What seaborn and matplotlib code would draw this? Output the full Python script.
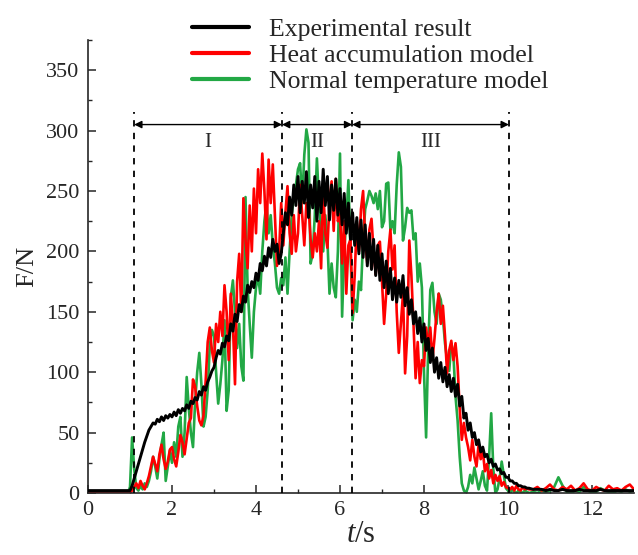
import numpy as np
import pandas as pd
import matplotlib
matplotlib.use("Agg")
import matplotlib.pyplot as plt
import seaborn as sns

# ---------------- data ----------------
t_pre = [0.0, 0.5, 0.95]
t_main = list(np.round(np.linspace(1.0, 10.5, 191), 2))
t_post = list(np.round(np.linspace(10.6, 13.0, 25), 2))
t_all = t_pre + t_main + t_post

exp_pre = [2, 2, 2]
exp_main = [
    2, 6, 12, 18, 24, 30, 36, 42, 47, 52,
    55, 58, 57, 61, 59, 63, 60, 64, 62, 65,
    63, 67, 64, 69, 66, 70, 68, 73, 70, 76,
    74, 79, 77, 84, 81, 88, 85, 92, 96, 101,
    104, 112, 118, 115, 124, 121, 130, 126, 140, 134,
    148, 142, 156, 150, 163, 158, 172, 166, 175, 170,
    182, 176, 190, 184, 196, 188, 203, 195, 210, 200,
    206, 190, 198, 215, 232, 222, 245, 230, 255, 238,
    262, 232, 258, 240, 266, 228, 255, 236, 262, 225,
    258, 232, 268, 238, 262, 226, 255, 234, 260, 230,
    252, 222, 248, 215, 240, 210, 232, 205, 228, 198,
    226, 195, 222, 188, 215, 185, 210, 180, 205, 176,
    198, 170, 192, 165, 186, 160, 178, 158, 176, 162,
    180, 155, 170, 148, 160, 140, 150, 132, 145, 125,
    140, 118, 128, 108, 120, 100, 112, 95, 108, 92,
    104, 88, 98, 84, 95, 80, 90, 72, 80, 62,
    66, 52, 58, 46, 50, 40, 44, 34, 38, 30,
    32, 25, 28, 22, 24, 19, 20, 16, 17, 13,
    13, 10, 10, 8, 8, 6, 6, 5, 5, 4,
    4]
exp_post = [3, 3, 3, 2, 3, 2, 2, 3, 2, 2, 2, 3, 2, 2, 2, 2, 3, 2, 2, 2, 2, 2, 2, 2, 2]

heat_pre = [0, 0, 0]
heat_main = [
    0, 2, 5, 8, 4, 10, 6, 3, 8, 14,
    22, 30, 24, 18, 32, 40, 28, 20, 26, 36,
    38, 28, 22, 34, 48, 42, 32, 45, 58, 62,
    94, 88, 72, 60, 56, 64, 92, 125, 137, 118,
    108, 140, 125, 150, 130, 172, 150, 110, 165, 140,
    90, 175, 198, 150, 244, 210, 186, 238, 200, 252,
    215, 268, 240, 281, 250, 210, 276, 240, 272, 230,
    188, 200, 240, 205, 232, 254, 215, 198, 230, 200,
    215, 255, 230, 205, 240, 238, 210, 195, 215, 200,
    225, 186, 253, 215, 203, 240, 258, 217, 260, 225,
    231, 190, 225, 165, 205, 210, 149, 180, 225, 200,
    235, 250, 210, 190, 218, 227, 200, 181, 205, 208,
    175, 140, 165, 200, 218, 185, 205, 150, 116, 140,
    165, 99, 130, 209, 180, 140, 95, 125, 91, 110,
    105, 137, 120, 137, 110, 128, 150, 165, 140, 155,
    130, 99, 118, 126, 110, 124, 105, 70, 44, 58,
    46, 38, 27, 44, 30, 22, 40, 28, 35, 18,
    24, 12, 19, 8, 15, 10, 14, 6, 9, 5,
    4, 3, 5, 2, 6, 3, 2, 5, 3, 4,
    3]
heat_post = [3, 5, 2, 4, 7, 3, 2, 5, 3, 6, 2, 4, 8, 3, 2, 5, 3, 2, 6, 3, 4, 2, 5, 7, 3]

norm_pre = [0, 0, 0]
norm_main = [
    5, 46, 20, 4, 2, 6, 3, 8, 5, 10,
    18, 30, 22, 12, 28, 40, 50, 10, 22, 35,
    25, 42, 30, 55, 63, 30, 50, 96, 70, 50,
    38, 75, 100, 116, 90, 55, 63, 85, 122, 135,
    130, 100, 74, 90, 110, 143, 68, 85, 162, 176,
    150, 120, 140, 105, 93, 245, 170, 140, 112, 150,
    170, 180, 165, 200, 225, 240, 215, 230, 205, 190,
    170, 165, 178, 172, 195, 165, 200, 230, 245, 255,
    268, 273, 240, 280, 301, 290, 190, 198, 230, 277,
    240, 215, 200, 230, 210, 165, 190, 170, 162, 200,
    281, 146, 200, 225, 259, 200, 143, 160, 150, 175,
    168, 210, 235, 242, 250, 246, 240, 248, 235, 250,
    220, 225, 256, 257, 218, 225, 215, 255, 282, 270,
    209, 220, 236, 232, 234, 210, 215, 175, 190, 170,
    100, 46, 120, 168, 174, 150, 140, 165, 160, 145,
    124, 110, 101, 124, 115, 80, 60, 30, 8, 2,
    0, 5, 15, 8, 21, 12, 3, 10, 18, 6,
    2, 30, 66, 20, 0, 3, 12, 26, 15, 4,
    2, 0, 3, 1, 0, 2, 1, 0, 2, 1,
    0]
norm_post = [1, 0, 2, 1, 2, 5, 13, 6, 1, 0, 2, 1, 5, 2, 0, 1, 4, 2, 1, 0, 2, 1, 3, 1, 2]

series_names = ["Experimental result", "Heat accumulation model", "Normal temperature model"]
series_colors = ["#000000", "#ff0000", "#22a845"]

region_bounds = [1.1, 4.62, 6.29, 10.02]
region_labels = ["I", "II", "III"]

x_ticks = [0, 2, 4, 6, 8, 10, 12]
y_ticks = [0, 50, 100, 150, 200, 250, 300, 350]

# ---------------- build table ----------------
exp_all = exp_pre + exp_main + exp_post
heat_all = heat_pre + heat_main + heat_post
norm_all = norm_pre + norm_main + norm_post
assert len(exp_all) == len(t_all) == len(heat_all) == len(norm_all)

df = pd.DataFrame({"t": t_all * 3,
                   "F": exp_all + heat_all + norm_all,
                   "series": sum([[n] * len(t_all) for n in series_names], [])})

# ---------------- style ----------------
sns.set_style("ticks")
plt.rcParams["font.family"] = ["Liberation Serif", "DejaVu Serif"]
plt.rcParams["mathtext.fontset"] = "custom"
plt.rcParams["mathtext.rm"] = "Liberation Serif"
plt.rcParams["mathtext.it"] = "Liberation Serif:italic"

fig = plt.figure(figsize=(6.38, 5.55), dpi=100)
ax = fig.add_axes([88 / 638, 1 - 493 / 555, 546 / 638, 453 / 555])

zorders = [3, 2, 1]
widths = [2.1, 1.9, 1.9]
for name, col, z, w in zip(series_names, series_colors, zorders, widths):
    sub = df[df["series"] == name]
    sns.lineplot(data=sub, x="t", y="F", color=col, lw=w, sort=False,
                 estimator=None, ax=ax, label=name, zorder=z)

ax.set_xlim(0, 13)
ax.set_ylim(0, 375)

# dashed boundaries
for b in region_bounds:
    ax.plot([b, b], [0, 315], ls=(0, (3.5, 3.5)), color="black", lw=1.3, zorder=5)

# arrows & labels
for a, b, lab in zip(region_bounds[:-1], region_bounds[1:], region_labels):
    ax.annotate("", xy=(b, 305), xytext=(a, 305),
                arrowprops=dict(arrowstyle="<|-|>", lw=1.0, color="black",
                                shrinkA=0, shrinkB=0, mutation_scale=11),
                zorder=6)
    ax.text((a + b) / 2, 290, lab, ha="center", va="center", fontsize=15)

ax.set_xticks(x_ticks)
ax.set_yticks(y_ticks)
ax.set_xticks(np.arange(1, 13, 2), minor=True)
ax.set_yticks(np.arange(25, 376, 50), minor=True)
ax.tick_params(which="major", direction="in", length=6, width=1.1, labelsize=16, pad=6)
ax.tick_params(which="minor", direction="in", length=3, width=1.0)
sns.despine(ax=ax)
for s in ["left", "bottom"]:
    ax.spines[s].set_linewidth(1.2)

ax.set_xlabel("$t$/s", fontsize=22, labelpad=0)
ax.set_ylabel("F/N", fontsize=19, labelpad=6)

leg = ax.legend(loc="upper left", bbox_to_anchor=(192 / 638, 1 - 18 / 555),
                bbox_transform=fig.transFigure, frameon=False, fontsize=18.5,
                handlelength=2.2, handletextpad=0.8, labelspacing=0.12,
                borderpad=0, borderaxespad=0)
for line in leg.get_lines():
    line.set_linewidth(3)

fig.savefig("out.png", dpi=100)
